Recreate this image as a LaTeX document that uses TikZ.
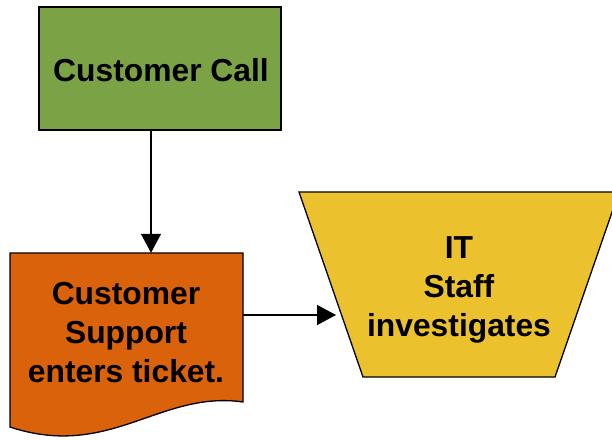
\documentclass[tikz,border=0pt]{standalone}
\usepackage{fontspec}
\setmainfont{Liberation Sans}
\usetikzlibrary{arrows.meta}
\definecolor{callgreen}{HTML}{7BA346}
\definecolor{supportorange}{HTML}{D9620B}
\definecolor{ityellow}{HTML}{EBC22D}
\tikzset{
  shapeline/.style={draw=black, line width=1.3pt, line join=miter},
  label/.style={font=\fontsize{31.8}{39}\selectfont\bfseries, align=center, text=black, inner sep=0pt},
  flow/.style={line width=1.3pt, -{Triangle[length=19pt,width=20pt]}},
}
\begin{document}
\begin{tikzpicture}[x=1pt,y=-1pt]
\useasboundingbox (0,0) rectangle (612,439);
\clip (0,0) rectangle (612,439);
% start: incoming call
\node[shapeline, fill=callgreen, minimum width=242pt, minimum height=123pt, inner sep=0pt] (call) at (160,68.5) {};
\node[label] (calltext) at (161,70) {Customer Call};
% document: ticket entry
\path[shapeline, fill=supportorange] (10,253) -- (243,253) -- (243,402)
  .. controls (160,390) and (110,460) .. (10,427) -- cycle;
\node[minimum width=233pt, minimum height=149pt, inner sep=0pt] (doc) at (126.5,327.5) {};
\node[label] (doctext) at (126,333) {Customer\\Support\\enters ticket.};
% manual operation: investigation
\path[shapeline, fill=ityellow] (299,192) -- (619,192) -- (555,377) -- (363,377) -- cycle;
\node[label] (it) at (459,290) {IT\\Staff\\investigates};
\coordinate (itin) at (336,315);
% connectors
\draw[flow] (call.south -| 151,0) -- (doc.north -| 151,0);
\draw[flow] ([yshift=12.5pt]doc.east) -- (itin);
\end{tikzpicture}
\end{document}
